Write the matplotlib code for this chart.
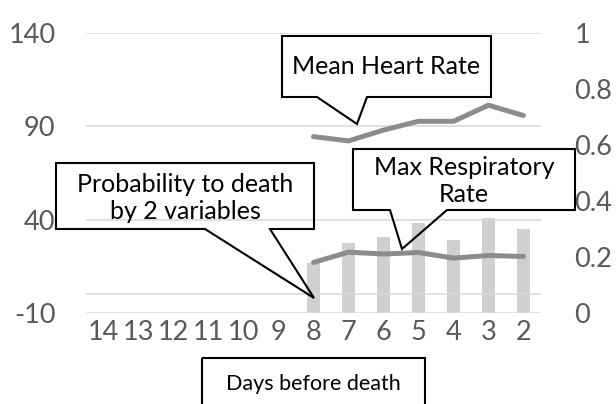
import numpy as np
import matplotlib.pyplot as plt
from matplotlib.patches import Polygon

plt.rcParams['font.family'] = ['Lato', 'DejaVu Sans']
plt.rcParams['axes.unicode_minus'] = False

# datos
dias = ['14', '13', '12', '11', '10', '9', '8', '7', '6', '5', '4', '3', '2']
prob_muerte = [np.nan] * 6 + [0.18, 0.25, 0.27, 0.32, 0.26, 0.34, 0.30]
frec_cardiaca = [np.nan] * 6 + [84.5, 82.2, 88.0, 92.7, 92.7, 101.3, 95.8]
frec_resp = [np.nan] * 6 + [17.1, 22.6, 21.6, 22.4, 19.4, 20.8, 20.3]

W, H = 616, 404
fig = plt.figure(figsize=(W / 100, H / 100), dpi=100)
ax = fig.add_axes([86 / W, 1 - 313 / H, 455 / W, 280 / H])
ax2 = ax.twinx()

x = np.arange(len(dias))

# barras de probabilidad (eje derecho)
ax2.bar(x, prob_muerte, width=0.38, color='#d0d0d0', zorder=1)
ax2.set_ylim(0, 1)
ax2.set_yticks([0, 0.2, 0.4, 0.6, 0.8, 1])
ax2.set_yticklabels(['0', '0.2', '0.4', '0.6', '0.8', '1'])

# líneas (eje izquierdo) encima de las barras
ax.set_zorder(ax2.get_zorder() + 1)
ax.patch.set_visible(False)
ax.plot(x, frec_cardiaca, color='#8c8c8c', lw=3.6, solid_capstyle='round', zorder=3)
ax.plot(x, frec_resp, color='#8c8c8c', lw=3.6, solid_capstyle='round', zorder=3)
ax.set_ylim(-10, 140)
ax.set_yticks([-10, 40, 90, 140])
ax.set_xlim(-0.5, len(dias) - 0.5)
ax.set_xticks(x)
ax.set_xticklabels(dias)

for v in [-10, 0, 40, 90, 140]:
    ax.axhline(v, color='#d9d9d9', lw=1.1, zorder=0)

for a in (ax, ax2):
    for s in a.spines.values():
        s.set_visible(False)
    a.tick_params(length=0, labelsize=19.5, labelcolor='#595959')
ax.tick_params(axis='y', pad=22)
ax.tick_params(axis='x', pad=5)
ax2.tick_params(axis='y', pad=24)


def globo(puntos, texto, tx, ty, size):
    # puntos en píxeles (y desde arriba)
    pts = [(px / W, 1 - py / H) for px, py in puntos]
    fig.patches.append(Polygon(pts, closed=True, fill=False, ec='black', lw=1.5,
                               transform=fig.transFigure, zorder=5))
    fig.text(tx / W, 1 - ty / H, texto, ha='center', va='center', fontsize=size,
             color='black', linespacing=1.25, zorder=6)


globo([(282, 36), (491, 36), (491, 97), (367, 97), (357, 124), (317, 97), (282, 97)],
      'Mean Heart Rate', 386, 66, 18)
globo([(353, 149), (575, 149), (575, 210), (447, 210), (402, 249), (390, 210), (353, 210)],
      'Max Respiratory\nRate', 464, 181, 18)
globo([(56, 163), (314, 163), (314, 229), (270, 229), (314, 298), (205, 229), (56, 229)],
      'Probability to death\nby 2 variables', 185, 198, 18)
globo([(202, 358), (425, 358), (425, 410), (202, 410)],
      'Days before death', 313.5, 384, 15.5)

fig.savefig('out.png', dpi=100)
